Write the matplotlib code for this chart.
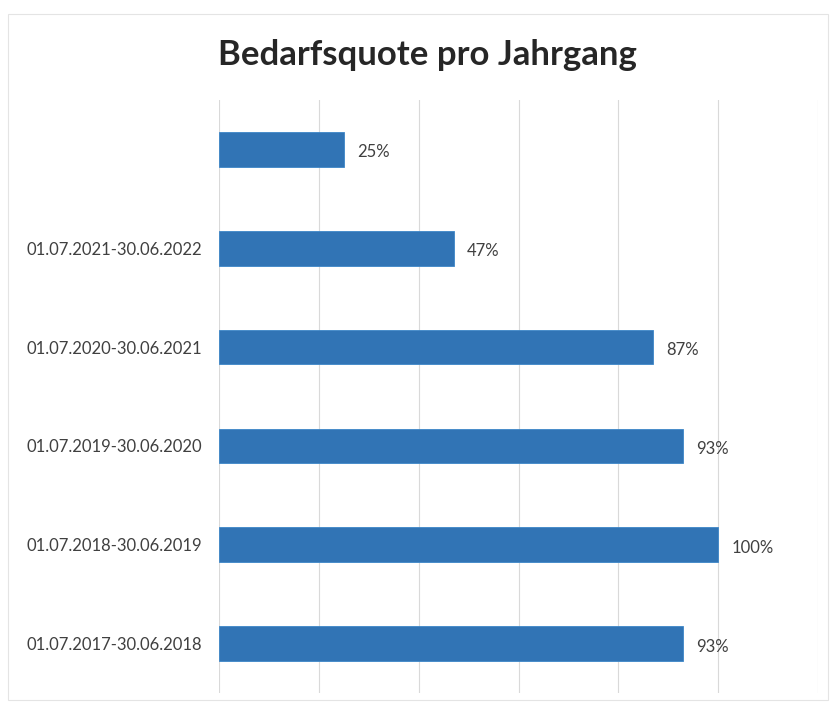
import matplotlib
matplotlib.use("Agg")
import matplotlib.pyplot as plt
from matplotlib.patches import Rectangle

categories = ["01.07.2017-30.06.2018", "01.07.2018-30.06.2019", "01.07.2019-30.06.2020",
              "01.07.2020-30.06.2021", "01.07.2021-30.06.2022", ""]
values = [0.93, 1.00, 0.93, 0.87, 0.47, 0.25]
value_labels = ["93%", "100%", "93%", "87%", "47%", "25%"]
title = "Bedarfsquote pro Jahrgang"

plt.rcParams['font.family'] = ['Lato', 'DejaVu Sans']

W, H = 830, 710
fig = plt.figure(figsize=(W / 100, H / 100), dpi=100)
fig.patches.append(Rectangle((8 / W, 1 - 700 / H), 820 / W, 686 / H, transform=fig.transFigure,
                             fill=False, edgecolor='#e4e4e4', linewidth=0.8))
ax = fig.add_axes([219 / W, 1 - 693 / H, (818 - 219) / W, (693 - 100) / H])

y = list(range(len(categories)))
ax.barh(y, values, height=0.35, color='#3174b5', edgecolor='#3d86c8', linewidth=0.6, zorder=3)
for yi, v, lab in zip(y, values, value_labels):
    ax.annotate(lab, (v, yi), xytext=(13, -3), textcoords='offset pixels',
                va='center', ha='left', fontsize=12, color='#404040')

ax.set_xlim(0, 1.2)
ax.set_ylim(-0.5, len(categories) - 0.5)
ax.set_xticks([0, 0.2, 0.4, 0.6, 0.8, 1.0, 1.2])
ax.set_xticklabels([])
ax.set_yticks(y)
ax.set_yticklabels(categories, fontsize=12, color='#404040')
ax.tick_params(axis='both', length=0, pad=12)
ax.grid(axis='x', color='#d9d9d9', linewidth=0.8, zorder=0)
for s in ax.spines.values():
    s.set_visible(False)

fig.text(427 / W, 1 - 55 / H, title, ha='center', va='center', fontsize=25, fontweight='bold',
         color='#262626')

fig.savefig("out.png", dpi=100)
